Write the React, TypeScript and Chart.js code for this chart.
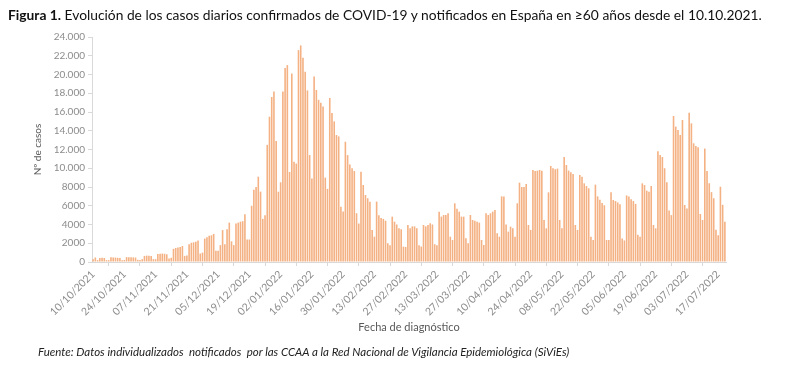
import React, { useEffect, useRef } from 'react';
import { Chart, registerables } from 'chart.js';

Chart.register(...registerables);

// Daily confirmed cases, ≥60 years, from 10/10/2021 (Sunday)
const START_DATE = '2021-10-10';

const oct2021 = [
  300, 480, 200, 420, 450, 430, 200,
  200, 500, 480, 470, 450, 430, 200,
  220, 520, 520, 500, 490, 470, 230,
  220,
];
const nov2021 = [
  300, 650, 680, 660, 640, 300,
  300, 850, 880, 900, 880, 820, 380,
  450, 1400, 1500, 1550, 1600, 1700, 650,
  700, 1900, 2050, 2100, 2150, 2300, 900,
  1000, 2500, 2650,
];
const dec2021 = [
  2800, 2850, 3000, 1200,
  1200, 1800, 3400, 1900, 3500, 4200, 2200,
  1800, 4100, 4200, 4300, 4350, 5100, 2400,
  2400, 6000, 7700, 8000, 9100, 7500, 4600,
  5000, 12500, 15500, 17600, 18200, 12900,
];
const jan2022 = [
  7500,
  8500, 18200, 20700, 21000, 9600, 20100, 10700,
  10500, 22600, 23100, 21800, 20300, 18300, 11400,
  8900, 19800, 18350, 17300, 17000, 16600, 9000,
  7800, 17500, 15900, 15000, 13550, 13400, 5900,
  5400, 12830,
];
const feb2022 = [
  11400, 10400, 10000, 9700, 5200,
  4100, 9630, 8210, 7150, 6800, 6440, 3420,
  2700, 6440, 5000, 4700, 4600, 4400, 2000,
  1800, 4840, 4300, 4000, 3600, 3500, 1640,
  1600, 3950,
];
const mar2022 = [
  3600, 3800, 3800, 3600, 1800,
  1650, 3950, 3800, 3950, 4130, 4000, 1900,
  1800, 5370, 4840, 5010, 5010, 5190, 2700,
  2350, 6260, 5690, 5370, 4840, 4840, 2530,
  2000, 5010, 4480, 4410, 4300,
];
const apr2022 = [
  4200, 2350,
  1810, 5190, 5010, 5190, 5370, 5550, 3060,
  2700, 7000, 7000, 4000, 3240, 3770, 3590,
  2700, 6260, 8460, 8000, 8000, 8320, 3950,
  3420, 9810, 9700, 9740, 9810, 9740, 4480,
];
const may2022 = [
  3590, 7430, 10240, 10000, 9890, 9960, 4480,
  3590, 11200, 10350, 9750, 9580, 9400, 3950,
  3420, 9280, 9100, 8390, 8100, 7860, 2700,
  2350, 8250, 7000, 6650, 6300, 6050, 2350,
  2350, 7450, 6610,
];
const jun2022 = [
  6500, 6350, 6170, 2500,
  2300, 7100, 7000, 6700, 6500, 6200, 2900,
  2700, 8390, 8210, 7610, 7500, 8110, 3950,
  3590, 11820, 11410, 11200, 10000, 8500, 5500,
  5000, 15570, 14440, 14080, 13550,
];
const jul2022 = [
  15150, 6080,
  5720, 15930, 14790, 12660, 12370, 12230, 5120,
  4480, 12100, 9700, 8400, 7450, 6800, 3450,
  2850, 8030, 6100, 4300,
];

const casos = [
  ...oct2021, ...nov2021, ...dec2021, ...jan2022, ...feb2022,
  ...mar2022, ...apr2022, ...may2022, ...jun2022, ...jul2022,
];

const LABEL_EVERY = 14;
const Y_MAX = 24000;
const Y_STEP = 2000;

function buildDates(start: string, n: number): string[] {
  const out: string[] = [];
  const d0 = new Date(start + 'T00:00:00Z');
  for (let i = 0; i < n; i++) {
    const d = new Date(d0.getTime() + i * 86400000);
    const dd = String(d.getUTCDate()).padStart(2, '0');
    const mm = String(d.getUTCMonth() + 1).padStart(2, '0');
    out.push(`${dd}/${mm}/${d.getUTCFullYear()}`);
  }
  return out;
}

const fechas = buildDates(START_DATE, casos.length);

function fmtY(v: number): string {
  if (v >= 10000) {
    const th = Math.floor(v / 1000);
    const rest = String(v % 1000).padStart(3, '0');
    return `${th}.${rest}`;
  }
  return String(v);
}

export default function App() {
  const ref = useRef<HTMLCanvasElement | null>(null);

  useEffect(() => {
    if (!ref.current) return;
    const chart = new Chart(ref.current, {
      type: 'bar',
      data: {
        labels: fechas,
        datasets: [
          {
            data: casos,
            backgroundColor: '#F4B183',
            borderWidth: 0,
            barPercentage: 0.72,
            categoryPercentage: 1,
          },
        ],
      },
      options: {
        animation: false,
        responsive: false,
        maintainAspectRatio: false,
        layout: { padding: { top: 37, left: 28, right: 74, bottom: 31 } },
        plugins: {
          legend: { display: false },
          tooltip: { enabled: false },
          title: { display: false },
        },
        scales: {
          x: {
            grid: {
              display: true,
              drawOnChartArea: false,
              tickLength: 4,
              color: '#d9d9d9',
            },
            border: { color: '#d9d9d9' },
            ticks: {
              autoSkip: false,
              minRotation: 45,
              maxRotation: 45,
              padding: 2,
              color: '#8c8c8c',
              font: { family: 'Lato', size: 10.5 },
              callback: (_v: any, i: number) => (i % LABEL_EVERY === 0 ? fechas[i] : null),
            },
            title: {
              display: true,
              text: 'Fecha de diagnóstico',
              color: '#595959',
              font: { family: 'Lato', size: 11 },
            },
            afterFit: (s: any) => {
              s.height = 76;
            },
          },
          y: {
            min: 0,
            max: Y_MAX,
            grid: {
              display: true,
              drawOnChartArea: false,
              tickLength: 4,
              color: '#d9d9d9',
            },
            border: { color: '#d9d9d9' },
            ticks: {
              stepSize: Y_STEP,
              padding: 3,
              color: '#8c8c8c',
              font: { family: 'Lato', size: 10 },
              callback: (v: any) => fmtY(Number(v)),
            },
            title: {
              display: true,
              text: 'Nº de casos',
              color: '#595959',
              font: { family: 'Lato', size: 10 },
            },
            afterFit: (s: any) => {
              s.width = 64;
            },
          },
        },
      },
    });
    return () => chart.destroy();
  }, []);

  return (
    <div style={{ position: 'absolute', left: 0, top: 0, width: 800, height: 369, background: '#fff', overflow: 'hidden' }}>
      <canvas ref={ref} width={800} height={369} style={{ position: 'absolute', left: 0, top: 0, width: 800, height: 369 }} />
      <div
        style={{
          position: 'absolute',
          left: 8,
          top: 6,
          fontFamily: 'Lato',
          fontSize: 13.8,
          lineHeight: '18px',
          color: '#111',
          whiteSpace: 'nowrap',
        }}
      >
        <b>Figura 1.</b> Evolución de los casos diarios confirmados de COVID-19 y notificados en España en ≥60 años desde el 10.10.2021.
      </div>
      <div
        style={{
          position: 'absolute',
          left: 38,
          top: 345,
          fontFamily: 'Lato',
          fontStyle: 'italic',
          fontSize: 11.5,
          lineHeight: '14px',
          color: '#222',
          whiteSpace: 'pre',
        }}
      >
        {'Fuente: Datos individualizados  notificados  por las CCAA a la Red Nacional de Vigilancia Epidemiológica (SiViEs)'}
      </div>
    </div>
  );
}
